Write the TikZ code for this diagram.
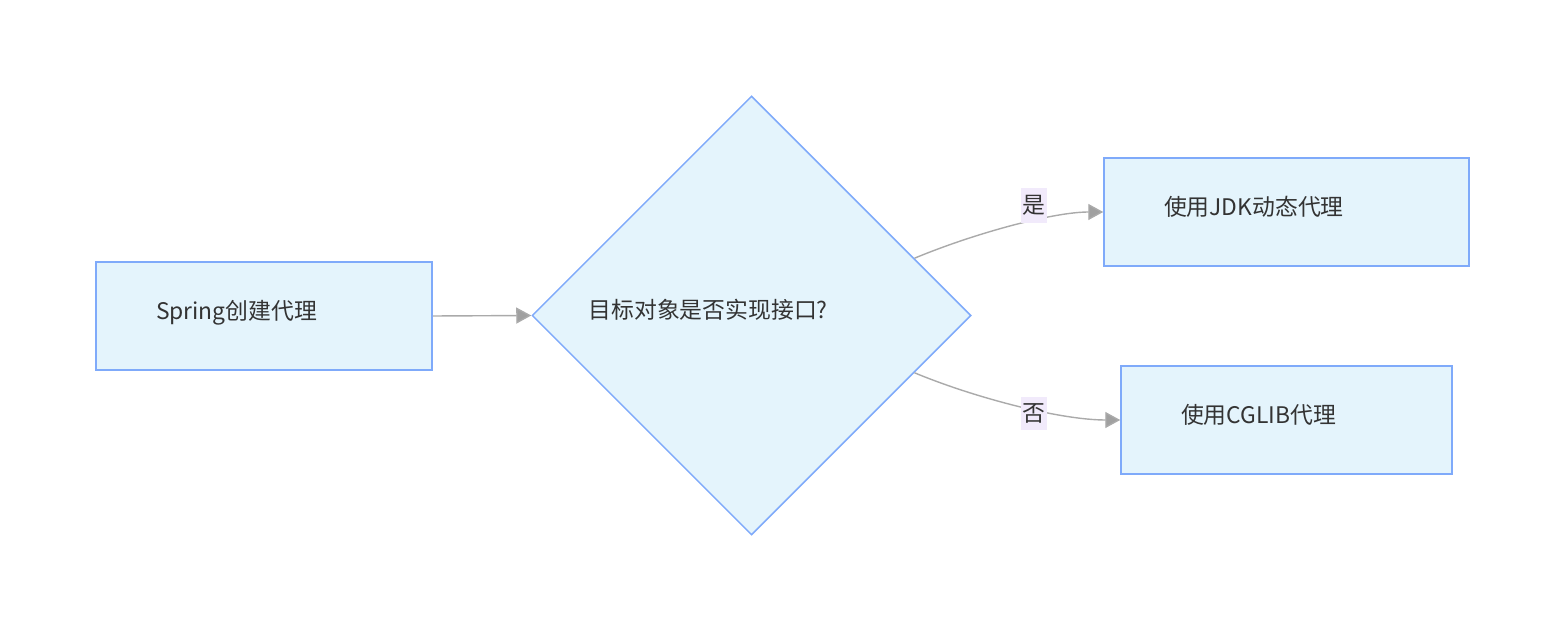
\documentclass[tikz,border=0pt]{standalone}
\usepackage{fontspec}
\setmainfont{Noto Sans CJK SC}
\usepackage{xcolor}
\usetikzlibrary{
  arrows.meta,
  shapes.geometric,
  calc,
}

\definecolor{boxfill}{RGB}{228,244,252}
\definecolor{boxline}{RGB}{127,170,250}
\definecolor{edgegray}{RGB}{170,170,170}
\definecolor{tipgray}{RGB}{160,160,160}
\definecolor{lblfill}{RGB}{241,234,251}
\definecolor{txtgray}{RGB}{51,51,51}

\begin{document}
\begin{tikzpicture}[
  x=0.02cm, y=-0.02cm,
  every node/.style={font=\fontsize{13pt}{16pt}\selectfont, text=txtgray},
  procbox/.style={
    rectangle, draw=boxline, fill=boxfill, line width=0.9pt,
    minimum height=2.16cm, inner xsep=1.2cm,
    text depth=0.25cm, align=left,
  },
  decide/.style={
    diamond, draw=boxline, fill=boxfill, line width=0.9pt,
    minimum width=8.78cm, minimum height=8.78cm,
    text width=6.52cm, text depth=0.25cm, align=left,
  },
  flow/.style={
    draw=edgegray, line width=0.8pt,
    -{Triangle[length=0.3cm, width=0.32cm, fill=tipgray]},
  },
  edgelbl/.style={fill=lblfill, inner xsep=1pt, inner ysep=0.14cm},
]
  \useasboundingbox (0,0) rectangle (1565,631);

  \node[procbox, text width=4.32cm] (spring) at (264,316) {Spring创建代理};
  \node[decide] (dia) at (751.5,315.5) {目标对象是否实现接口?};
  \node[procbox, text width=4.9cm]  (jdk)   at (1286.5,212) {使用JDK动态代理};
  \node[procbox, text width=4.22cm] (cglib) at (1286.5,420) {使用CGLIB代理};

  % Connectors
  \draw[flow] (spring.east) -- (dia.west);
  \draw[flow] ($(dia.north)!0.74!(dia.east)$) .. controls +(60,-25) and +(-50,0) .. (jdk.west);
  \draw[flow] ($(dia.south)!0.74!(dia.east)$) .. controls +(60,25) and +(-60,0) .. (cglib.west);

  % Edge labels
  \node[edgelbl] (yes) at (1034,205.5) {是};
  \node[edgelbl] (no)  at (1034,413.5) {否};

\end{tikzpicture}
\end{document}
